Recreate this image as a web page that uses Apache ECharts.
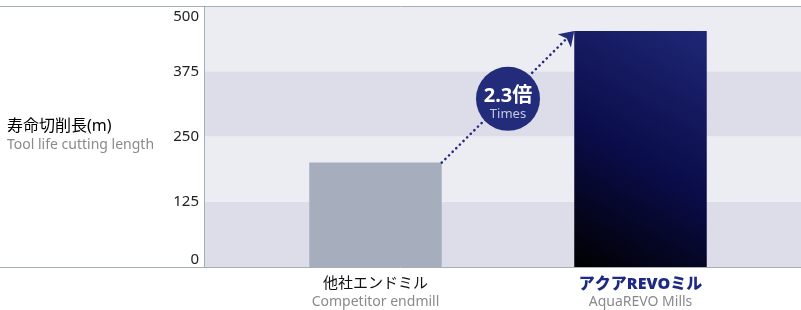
<!DOCTYPE html>
<html>
<head>
<meta charset="utf-8">
<script src="https://cdn.jsdelivr.net/npm/echarts@6/dist/echarts.min.js"></script>
<style>
  html, body { margin: 0; padding: 0; background: #fff; }
  #chart { width: 801px; height: 310px; }
</style>
</head>
<body>
<div id="chart"></div>
<script>
  // chart data
  const categoriesJa = ['他社エンドミル', 'アクアREVOミル']
  const categoriesEn = ['Competitor endmill', 'AquaREVO Mills']
  const toolLife = [200, 452]
  const yMin = 0
  const yMax = 500
  const yInterval = 125
  const ratioText = '2.3倍'
  const ratioSub = 'Times'

  const font = '"Noto Sans", "Noto Sans CJK JP", sans-serif'
  const navy = '#232c7a'
  const lineGray = '#a3afb5'

  // bar takes half of each category slot, arrow goes from edge to edge
  const barFrac = 0.5
  const arrowStart = [0 + 0.5 + barFrac / 2, toolLife[0]]
  const arrowEnd = [1 + 0.5 - barFrac / 2, toolLife[1]]
  const badgePos = [(arrowStart[0] + arrowEnd[0]) / 2, (arrowStart[1] + arrowEnd[1]) / 2]

  let chart = echarts.init(document.getElementById('chart'))

  let option = {
    animation: false,
    textStyle: { fontFamily: font },
    title: {
      left: 7,
      top: 118,
      padding: 0,
      text: '寿命切削長(m)',
      subtext: 'Tool life cutting length',
      itemGap: 4,
      textStyle: { fontSize: 16, fontWeight: 'normal', color: '#000', fontFamily: font },
      subtextStyle: { fontSize: 14, color: '#8a8a8a', fontFamily: font }
    },
    grid: [
      // background bands + y labels
      { left: 204, right: 0, top: 6, bottom: 43 },
      // full width frame lines
      { left: 0, right: 0, top: 6, bottom: 43 },
      // bars
      { left: 243, right: 28, top: 6, bottom: 43 }
    ],
    xAxis: [
      { gridIndex: 0, type: 'value', show: false },
      {
        gridIndex: 1, type: 'value', position: 'bottom',
        axisLine: { show: true, lineStyle: { color: lineGray, width: 1 } },
        axisTick: { show: false }, axisLabel: { show: false }, splitLine: { show: false }
      },
      {
        gridIndex: 1, type: 'value', position: 'top',
        axisLine: { show: true, lineStyle: { color: lineGray, width: 1 } },
        axisTick: { show: false }, axisLabel: { show: false }, splitLine: { show: false }
      },
      {
        gridIndex: 2, type: 'category',
        data: categoriesJa,
        axisLine: { show: false }, axisTick: { show: false },
        axisLabel: {
          margin: 8,
          formatter: function (value, idx) {
            let top = idx === 1 ? '{logo|' + value + '}' : '{ja|' + value + '}'
            return top + '\n{en|' + categoriesEn[idx] + '}'
          },
          rich: {
            ja: { fontSize: 15, color: '#111', lineHeight: 18, fontFamily: font },
            logo: { fontSize: 16, color: '#1c2a86', fontWeight: 900, lineHeight: 18, fontFamily: font },
            en: { fontSize: 14, color: '#8a8a8a', lineHeight: 18, fontFamily: font }
          }
        }
      },
      { gridIndex: 2, type: 'value', min: 0, max: 2, show: false }
    ],
    yAxis: [
      {
        gridIndex: 0, type: 'value',
        min: yMin, max: yMax, interval: yInterval,
        axisLine: { show: true, lineStyle: { color: lineGray, width: 1 } },
        axisTick: { show: false },
        splitLine: { show: false },
        splitArea: { show: true, areaStyle: { color: ['#dcdde9', '#ecedf3'] } },
        axisLabel: {
          margin: 5, fontSize: 15, color: '#222', fontFamily: font,
          verticalAlignMinLabel: 'bottom',
          verticalAlignMaxLabel: 'top',
          padding: [3, 0, 0, 0]
        }
      },
      { gridIndex: 1, type: 'value', min: yMin, max: yMax, show: false },
      { gridIndex: 2, type: 'value', min: yMin, max: yMax, show: false }
    ],
    series: [
      {
        type: 'bar',
        xAxisIndex: 3, yAxisIndex: 2,
        barWidth: (barFrac * 100) + '%',
        silent: true,
        data: [
          { value: toolLife[0], itemStyle: { color: '#a6aebe' } },
          {
            value: toolLife[1],
            itemStyle: {
              color: new echarts.graphic.LinearGradient(1, 0, 0, 1, [
                { offset: 0, color: '#1f2776' },
                { offset: 0.55, color: '#0a0c48' },
                { offset: 1, color: '#000000' }
              ])
            }
          }
        ]
      },
      {
        type: 'lines',
        coordinateSystem: 'cartesian2d',
        xAxisIndex: 4, yAxisIndex: 2,
        silent: true,
        symbol: ['none', 'arrow'],
        symbolSize: 14,
        lineStyle: { color: navy, width: 2.6, type: [0.1, 5], cap: 'round', opacity: 1 },
        data: [{ coords: [arrowStart, arrowEnd] }],
        z: 3
      },
      {
        type: 'scatter',
        xAxisIndex: 4, yAxisIndex: 2,
        silent: true,
        symbol: 'circle',
        symbolSize: 64,
        symbolOffset: [0, 2],
        itemStyle: { color: navy, opacity: 1 },
        label: {
          show: true,
          position: 'inside',
          offset: [0, 3],
          formatter: '{a|' + ratioText + '}\n{b|' + ratioSub + '}',
          rich: {
            a: { fontSize: 20, fontWeight: 'bold', color: '#fff', lineHeight: 24, fontFamily: font },
            b: { fontSize: 13, color: '#c6c9e2', lineHeight: 12, fontFamily: font }
          }
        },
        data: [badgePos],
        z: 4
      }
    ]
  }

  chart.setOption(option)
</script>
</body>
</html>
